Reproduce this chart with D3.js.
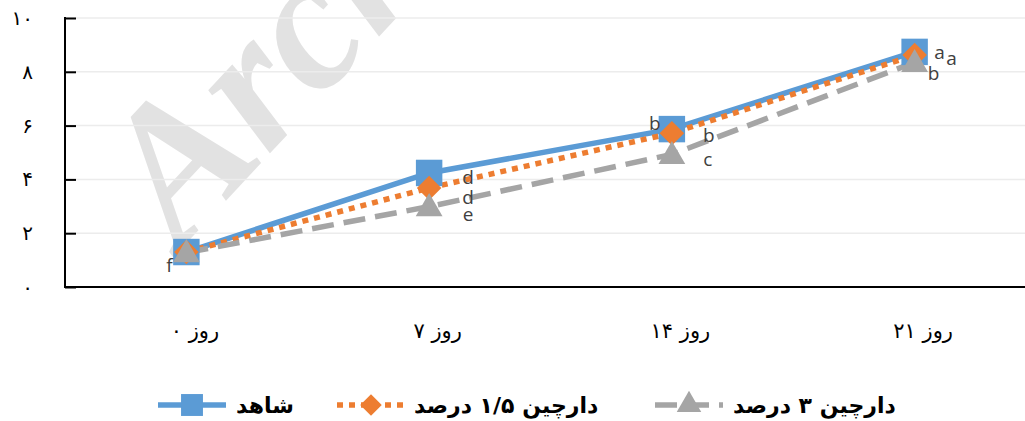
<!DOCTYPE html>
<html>
<head>
<meta charset="utf-8">
<script src="https://cdn.jsdelivr.net/npm/d3@7"></script>
<style>
  body { margin: 0; background: #fff; }
  svg { display: block; }
</style>
</head>
<body>
<div id="chart"></div>
<script>
// Chart data
const days = ['روز ۰', 'روز ۷', 'روز ۱۴', 'روز ۲۱'];
const yTicks = [0, 2, 4, 6, 8, 10];
const yTickLabels = ['۰', '۲', '۴', '۶', '۸', '۱۰'];

const seriesNames = ['شاهد', 'دارچین ۱/۵ درصد', 'دارچین ۳ درصد'];
const controlValues = [1.30, 4.24, 5.87, 8.74];
const cinnamon15Values = [1.30, 3.68, 5.72, 8.62];
const cinnamon3Values = [1.28, 2.99, 4.93, 8.35];

const controlLetters = ['f', 'd', 'b', 'a'];
const cinnamon15Letters = ['', 'd', 'b', 'a'];
const cinnamon3Letters = ['', 'e', 'c', 'b'];

// Layout
const width = 1025;
const height = 421;
const margin = { top: 18, right: -11, bottom: 134, left: 65 };

const svg = d3.select('#chart')
    .append('svg')
    .attr('width', width)
    .attr('height', height);

const x = d3.scalePoint()
    .domain(days)
    .range([margin.left, width - margin.right])
    .padding(0.5);

const y = d3.scaleLinear()
    .domain([0, 10])
    .range([height - margin.bottom, margin.top]);

// Watermark
svg.append('text')
    .attr('transform', 'translate(180,250) rotate(-47)')
    .style('font-family', '"Liberation Serif", serif')
    .style('font-weight', 'bold')
    .style('font-style', 'italic')
    .style('font-size', '192px')
    .style('fill', '#e2e2e2')
    .text('Archive');

// Gridlines
svg.append('g')
    .selectAll('line')
    .data(yTicks.slice(1))
    .enter()
    .append('line')
    .attr('x1', margin.left)
    .attr('x2', width)
    .attr('y1', d => y(d))
    .attr('y2', d => y(d))
    .style('stroke', '#ececec')
    .style('stroke-width', 1.5);

// Y axis with inside ticks
const yAxis = d3.axisRight(y)
    .tickValues(yTicks)
    .tickSize(11)
    .tickFormat('');

const yG = svg.append('g')
    .attr('transform', `translate(${margin.left},0)`)
    .call(yAxis);
yG.select('.domain').remove();
yG.selectAll('.tick line').style('stroke', '#000').style('stroke-width', 2);
yG.append('line')
    .attr('x1', 0).attr('x2', 0)
    .attr('y1', y(10) - 1).attr('y2', y(0) + 1)
    .style('stroke', '#000').style('stroke-width', 2);

svg.append('g')
    .selectAll('text')
    .data(yTicks)
    .enter()
    .append('text')
    .attr('x', 33)
    .attr('y', d => y(d))
    .attr('text-anchor', 'end')
    .attr('dominant-baseline', 'central')
    .style('font-family', '"DejaVu Sans", sans-serif')
    .style('font-size', '20px')
    .style('fill', '#000')
    .text((d, i) => yTickLabels[i]);

// X axis
const xAxis = d3.axisBottom(x).tickSize(0).tickPadding(36);
const xG = svg.append('g')
    .attr('transform', `translate(0,${y(0)})`)
    .call(xAxis);
xG.select('.domain').remove();
xG.append('line')
    .attr('x1', margin.left - 1).attr('x2', width)
    .style('stroke', '#000').style('stroke-width', 2);
xG.selectAll('.tick text')
    .attr('dx', 8)
    .style('font-family', '"DejaVu Sans", sans-serif')
    .style('font-size', '21px')
    .style('fill', '#000');

// Series
const series = [
    { name: seriesNames[0], values: controlValues, letters: controlLetters,
      color: '#5B9BD5', dash: null, marker: 'square',
      offsets: [[-17, 13], [39, 4], [-17, -6], [25, 0]] },
    { name: seriesNames[1], values: cinnamon15Values, letters: cinnamon15Letters,
      color: '#ED7D31', dash: '6,6', marker: 'diamond',
      offsets: [[0, 0], [39, 9], [37, 2], [37, 3]] },
    { name: seriesNames[2], values: cinnamon3Values, letters: cinnamon3Letters,
      color: '#A5A5A5', dash: '22,10', marker: 'triangle',
      offsets: [[0, 0], [39, 7], [36, 5], [19, 11]] }
];

const line = d3.line()
    .x((d, i) => x(days[i]))
    .y(d => y(d));

// diamond is a square turned by 45 degrees
const markerShape = {
    square: { sym: d3.symbolSquare, size: 700, rot: 0, dy: 0 },
    diamond: { sym: d3.symbolSquare, size: 300, rot: 45, dy: 0 },
    triangle: { sym: d3.symbolTriangle, size: 310, rot: 0, dy: 2 }
};

series.forEach(s => {
    svg.append('path')
        .datum(s.values)
        .attr('d', line)
        .style('fill', 'none')
        .style('stroke', s.color)
        .style('stroke-width', 5.5)
        .style('stroke-dasharray', s.dash);
});

series.forEach(s => {
    const m = markerShape[s.marker];
    svg.append('g')
        .selectAll('path')
        .data(s.values)
        .enter()
        .append('path')
        .attr('d', d3.symbol().type(m.sym).size(m.size)())
        .attr('transform', (d, i) => `translate(${x(days[i])},${y(d) + m.dy}) rotate(${m.rot})`)
        .style('fill', s.color);
});

// Significance letters
series.forEach(s => {
    svg.append('g')
        .selectAll('text')
        .data(s.values)
        .enter()
        .append('text')
        .attr('x', (d, i) => x(days[i]) + s.offsets[i][0])
        .attr('y', (d, i) => y(d) + s.offsets[i][1])
        .attr('text-anchor', 'middle')
        .attr('dominant-baseline', 'central')
        .style('font-family', '"Open Sans", sans-serif')
        .style('font-size', '19px')
        .style('fill', '#404040')
        .text((d, i) => s.letters[i]);
});

// Legend
const legendY = 405;
const legendItems = [
    { s: series[0], x0: 158, x1: 226, text: 236, size: 480 },
    { s: series[1], x0: 337, x1: 405, text: 414, size: 230 },
    { s: series[2], x0: 655, x1: 723, text: 733, size: 260 }
];

legendItems.forEach(item => {
    const m = markerShape[item.s.marker];
    const g = svg.append('g');
    g.append('line')
        .attr('x1', item.x0).attr('x2', item.x1)
        .attr('y1', legendY).attr('y2', legendY)
        .style('stroke', item.s.color)
        .style('stroke-width', 5.5)
        .style('stroke-dasharray', item.s.dash);
    g.append('path')
        .attr('d', d3.symbol().type(m.sym).size(item.size)())
        .attr('transform', `translate(${(item.x0 + item.x1) / 2},${legendY}) rotate(${m.rot})`)
        .style('fill', item.s.color);
    g.append('text')
        .attr('x', item.text)
        .attr('y', legendY)
        .attr('text-anchor', 'start')
        .attr('dominant-baseline', 'central')
        .attr('direction', 'ltr')
        .style('font-family', '"DejaVu Sans", sans-serif')
        .style('font-weight', 'bold')
        .style('font-size', '22px')
        .style('fill', '#000')
        .text(item.s.name);
});
</script>
</body>
</html>
